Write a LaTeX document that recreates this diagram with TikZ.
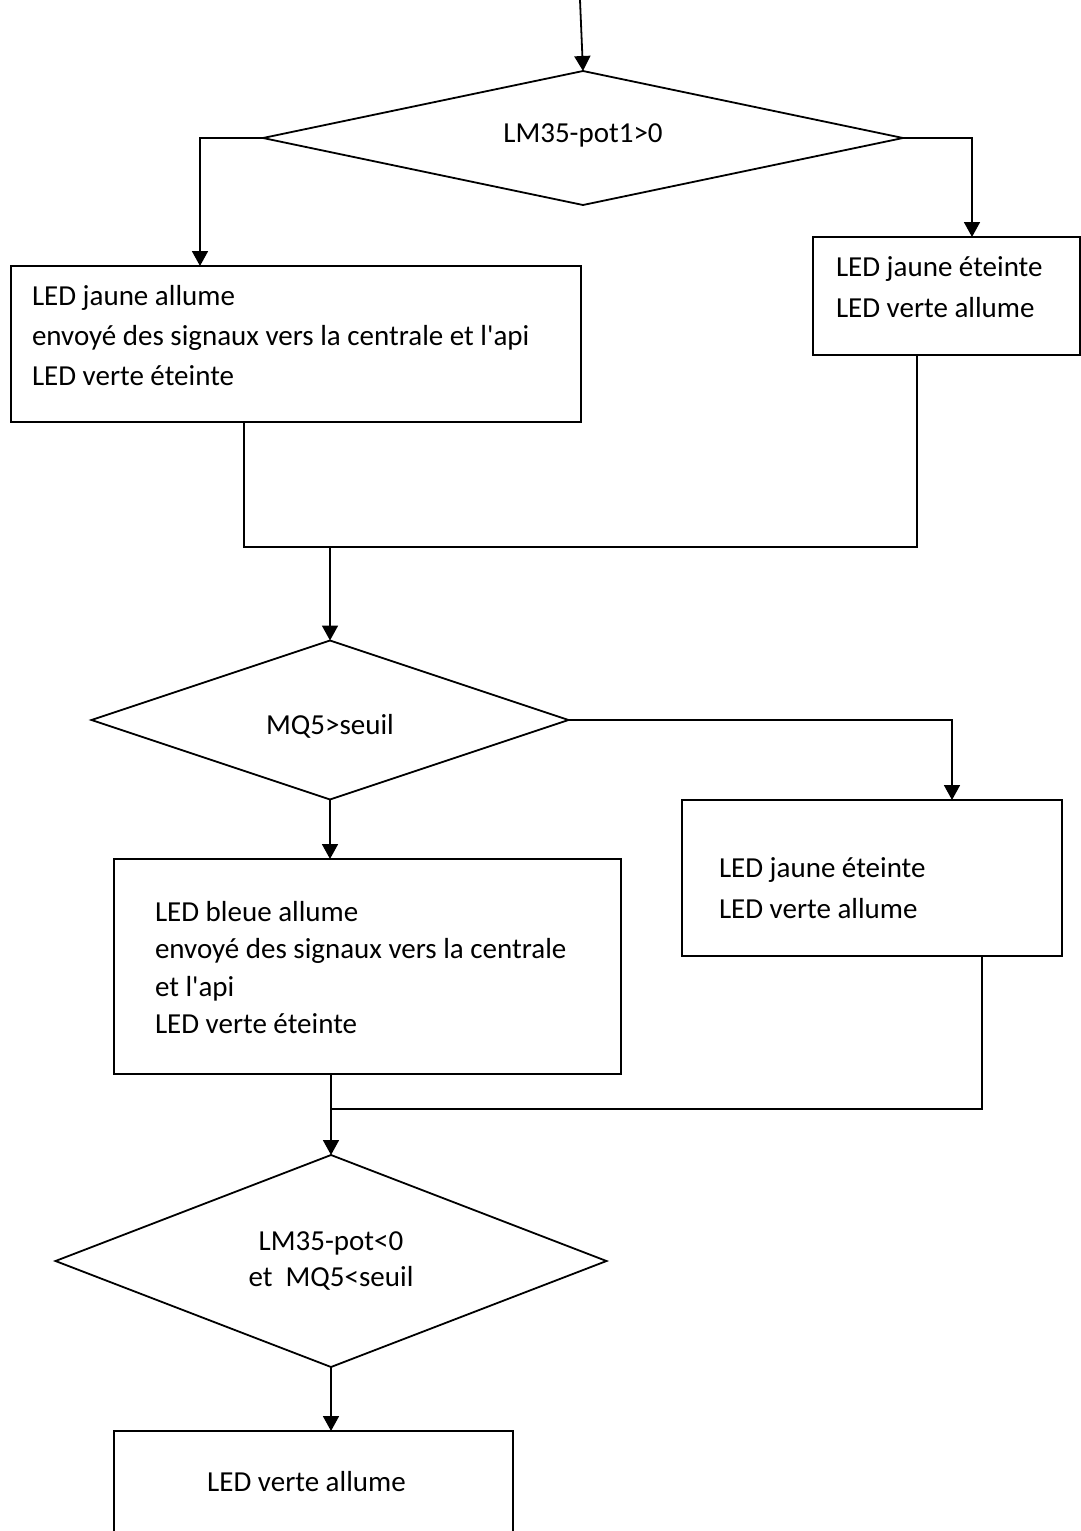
\documentclass[tikz,border=0pt]{standalone}
\usepackage{fontspec}
\setmainfont{Carlito}[Ligatures=TeXOff]
\usetikzlibrary{shapes.geometric,arrows.meta}
\begin{document}
\begin{tikzpicture}[x=1pt,y=-1pt,
  line/.style={line width=1.8pt},
  arr/.style={line width=1.8pt, -{Triangle[length=15pt,width=16pt]}},
  box/.style={draw, line width=1.8pt, inner sep=0pt, outer sep=0pt},
  dec/.style={draw, diamond, line width=1.8pt, inner sep=0pt, outer sep=0pt,
              font=\fontsize{29}{35.7}\selectfont, align=center},
  txt/.style={inner sep=0pt, outer sep=0pt, anchor=north west, align=left}]
\useasboundingbox (0,0) rectangle (1081,1531);
\clip (0,0) rectangle (1081,1531);

% decisions
\node[dec, shape aspect=4.8, minimum width=640pt, minimum height=134pt,
      text height=20pt, text depth=12pt] (d1) at (583,138) {LM35-pot1>0};
\node[dec, shape aspect=3, minimum width=477pt, minimum height=159pt,
      text height=28pt, text depth=0pt] (d2) at (330,720) {MQ5>seuil};
\node[dec, shape aspect=2.6, minimum width=551pt, minimum height=212pt]
      (d3) at (331,1261) {LM35-pot<0\\et~~MQ5<seuil};

% boxes
\node[box, minimum width=570pt, minimum height=156pt] (b1) at (296,344) {};
\node[txt, font=\fontsize{29}{40}\selectfont] (t1) at (32,277)
  {\strut LED jaune allume\\\strut envoyé des signaux vers la centrale et l'api\\\strut LED verte éteinte};

\node[box, minimum width=267pt, minimum height=118pt] (b2) at (946.5,296) {};
\node[txt, font=\fontsize{29}{41}\selectfont] (t2) at (836,248)
  {\strut LED jaune éteinte\\\strut LED verte allume};

\node[box, minimum width=507pt, minimum height=215pt] (b3) at (367.5,966.5) {};
\node[txt, font=\fontsize{29}{37.5}\selectfont] (t3) at (155,894.75)
  {\strut LED bleue allume\\\strut envoyé des signaux vers la centrale\\\strut et l'api\\\strut LED verte éteinte};

\node[box, minimum width=380pt, minimum height=156pt] (b4) at (872,878) {};
\node[txt, font=\fontsize{29}{41}\selectfont] (t4) at (719,848.3)
  {\strut LED jaune éteinte\\\strut LED verte allume};

\node[box, minimum width=399pt, minimum height=102pt, font=\fontsize{29}{35}\selectfont]
  (b5) at (313.5,1482) {LED verte allume\kern14pt};

% connectors
\coordinate (start) at (580,0);
\draw[arr] (start) -- (d1.north);
\draw[arr] (d1.west) -| ([xshift=189pt]b1.north west);
\draw[arr] (d1.east) -| ([xshift=159pt]b2.north west);

\coordinate (j1) at (330,547);
\draw[line] ([xshift=233pt]b1.south west) |- (j1) -| ([xshift=104pt]b2.south west);
\draw[arr] (j1) -- (d2.north);

\draw[arr] (d2.east) -| ([xshift=270pt]b4.north west);
\draw[arr] (d2.south) -- (d2.south |- b3.north);

\coordinate (j2) at (331,1109);
\draw[line] ([xshift=300pt]b4.south west) |- (j2);
\draw[arr] (b3.south -| d3.north) -- (d3.north);
\draw[arr] (d3.south) -- (d3.south |- b5.north);
\end{tikzpicture}
\end{document}
